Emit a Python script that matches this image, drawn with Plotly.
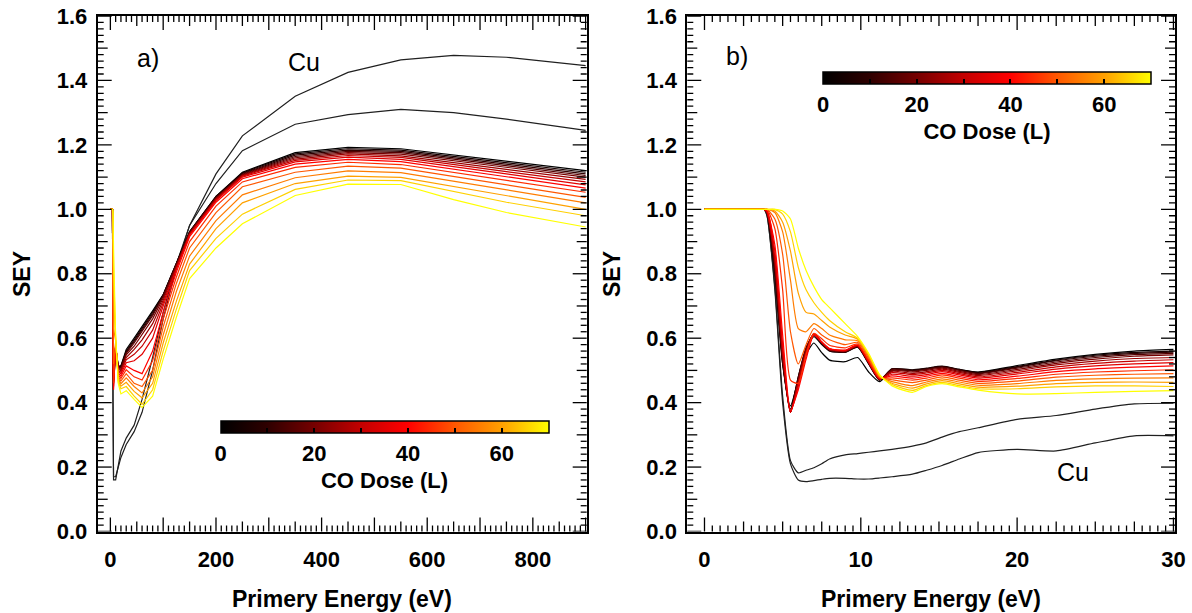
import plotly.graph_objects as go
from plotly.colors import sample_colorscale

# ---------------- data ----------------
DOSES = [0, 5, 10, 15, 20, 25, 30, 35, 40, 45, 50, 55, 60, 65, 70]

# panel a) primary energies (eV)
A_E = [0, 4, 5, 6, 10, 15, 20, 30, 45, 60, 80, 100, 125, 150, 200, 250, 350, 450, 550, 650, 750, 900]
A_D00 = [1, 1, 0.52, 0.47, 0.54, 0.512, 0.515, 0.565, 0.60, 0.635, 0.685, 0.735, 0.83, 0.93, 1.04, 1.115, 1.176, 1.192, 1.188, 1.168, 1.148, 1.12]
A_D05 = [1, 1, 0.52, 0.48, 0.572, 0.513, 0.512, 0.56, 0.595, 0.63, 0.68, 0.735, 0.83, 0.93, 1.04, 1.113, 1.172, 1.188, 1.184, 1.164, 1.144, 1.115]
A_D10 = [1, 1, 0.53, 0.48, 0.573, 0.512, 0.51, 0.557, 0.59, 0.625, 0.675, 0.733, 0.83, 0.93, 1.038, 1.111, 1.168, 1.184, 1.18, 1.16, 1.14, 1.11]
A_D15 = [1, 1, 0.53, 0.475, 0.574, 0.51, 0.507, 0.553, 0.585, 0.62, 0.67, 0.73, 0.828, 0.928, 1.036, 1.109, 1.164, 1.18, 1.176, 1.156, 1.135, 1.105]
A_D20 = [1, 1, 0.54, 0.47, 0.575, 0.507, 0.503, 0.548, 0.575, 0.61, 0.66, 0.725, 0.826, 0.926, 1.034, 1.107, 1.16, 1.176, 1.171, 1.151, 1.13, 1.10]
A_D25 = [1, 1, 0.55, 0.465, 0.576, 0.504, 0.499, 0.54, 0.565, 0.595, 0.645, 0.718, 0.823, 0.924, 1.032, 1.105, 1.156, 1.172, 1.166, 1.146, 1.124, 1.093]
A_D30 = [1, 1, 0.56, 0.46, 0.577, 0.50, 0.494, 0.533, 0.55, 0.575, 0.625, 0.71, 0.82, 0.922, 1.03, 1.103, 1.152, 1.167, 1.161, 1.14, 1.117, 1.085]
A_D35 = [1, 1, 0.58, 0.45, 0.578, 0.496, 0.489, 0.524, 0.53, 0.55, 0.60, 0.70, 0.815, 0.92, 1.027, 1.10, 1.147, 1.162, 1.155, 1.133, 1.109, 1.076]
A_D40 = [1, 1, 0.61, 0.44, 0.579, 0.491, 0.482, 0.514, 0.50, 0.49, 0.56, 0.68, 0.805, 0.915, 1.022, 1.095, 1.14, 1.155, 1.148, 1.125, 1.10, 1.066]
A_D45 = [1, 1, 0.75, 0.46, 0.582, 0.486, 0.475, 0.502, 0.48, 0.47, 0.53, 0.66, 0.79, 0.90, 1.01, 1.085, 1.13, 1.146, 1.139, 1.115, 1.089, 1.053]
A_D50 = [1, 1, 0.86, 0.52, 0.587, 0.48, 0.467, 0.49, 0.46, 0.45, 0.50, 0.635, 0.77, 0.88, 0.99, 1.07, 1.115, 1.134, 1.128, 1.102, 1.075, 1.037]
A_D55 = [1, 1, 0.93, 0.63, 0.592, 0.474, 0.459, 0.477, 0.45, 0.43, 0.48, 0.61, 0.745, 0.855, 0.965, 1.045, 1.098, 1.119, 1.114, 1.087, 1.059, 1.02]
A_D60 = [1, 1, 0.96, 0.74, 0.597, 0.468, 0.451, 0.463, 0.435, 0.415, 0.46, 0.585, 0.715, 0.83, 0.94, 1.02, 1.08, 1.103, 1.099, 1.071, 1.041, 1.0]
A_D65 = [1, 1, 0.985, 0.82, 0.60, 0.463, 0.443, 0.45, 0.42, 0.395, 0.44, 0.56, 0.69, 0.81, 0.91, 0.985, 1.062, 1.091, 1.089, 1.056, 1.022, 0.98]
A_D70 = [1, 1, 0.995, 0.88, 0.605, 0.459, 0.427, 0.437, 0.41, 0.385, 0.42, 0.535, 0.665, 0.785, 0.88, 0.955, 1.043, 1.078, 1.077, 1.03, 0.99, 0.945]
A_CU1 = [1, 1, 0.40, 0.17, 0.17, 0.2, 0.23, 0.27, 0.31, 0.37, 0.5, 0.66, 0.82, 0.95, 1.11, 1.228, 1.351, 1.425, 1.464, 1.478, 1.472, 1.446]
A_CU2 = [1, 1, 0.40, 0.16, 0.16, 0.2, 0.25, 0.29, 0.33, 0.41, 0.54, 0.68, 0.83, 0.95, 1.08, 1.182, 1.264, 1.294, 1.31, 1.30, 1.28, 1.245]

# panel b) primary energies (eV)
B_E = [0, 3.0, 3.8, 4.0, 4.5, 5.0, 5.5, 6.0, 6.5, 7.0, 7.5, 8.0, 9.0, 9.8, 10.5, 11.2, 12.0, 13.3, 14.2, 15.2, 16.3, 17.5, 20.0, 22.5, 25.0, 27.5, 30.0]
B_D00 = [1.0, 1.0, 1.0, 0.99, 0.80, 0.52, 0.39, 0.47, 0.55, 0.585, 0.555, 0.532, 0.527, 0.54, 0.495, 0.465, 0.50, 0.50, 0.505, 0.512, 0.503, 0.495, 0.515, 0.535, 0.55, 0.56, 0.565]
B_D05 = [1.0, 1.0, 1.0, 0.99, 0.80, 0.52, 0.38, 0.48, 0.565, 0.605, 0.58, 0.56, 0.556, 0.572, 0.52, 0.47, 0.505, 0.502, 0.507, 0.513, 0.503, 0.494, 0.512, 0.532, 0.547, 0.556, 0.56]
B_D10 = [1.0, 1.0, 1.0, 0.99, 0.81, 0.53, 0.375, 0.48, 0.57, 0.61, 0.583, 0.562, 0.557, 0.573, 0.522, 0.47, 0.505, 0.50, 0.505, 0.512, 0.502, 0.492, 0.51, 0.53, 0.544, 0.553, 0.557]
B_D15 = [1.0, 1.0, 1.0, 0.99, 0.82, 0.53, 0.37, 0.475, 0.57, 0.612, 0.585, 0.563, 0.558, 0.574, 0.523, 0.471, 0.503, 0.498, 0.503, 0.51, 0.50, 0.49, 0.507, 0.526, 0.54, 0.549, 0.553]
B_D20 = [1.0, 1.0, 1.0, 0.99, 0.83, 0.54, 0.37, 0.47, 0.565, 0.613, 0.586, 0.564, 0.559, 0.575, 0.524, 0.472, 0.50, 0.495, 0.50, 0.507, 0.497, 0.487, 0.503, 0.522, 0.535, 0.544, 0.548]
B_D25 = [1.0, 1.0, 1.0, 0.99, 0.84, 0.55, 0.37, 0.465, 0.56, 0.614, 0.587, 0.565, 0.56, 0.576, 0.525, 0.472, 0.497, 0.491, 0.496, 0.504, 0.494, 0.484, 0.499, 0.517, 0.529, 0.537, 0.54]
B_D30 = [1.0, 1.0, 1.0, 0.99, 0.85, 0.56, 0.37, 0.46, 0.555, 0.614, 0.588, 0.566, 0.561, 0.577, 0.526, 0.473, 0.493, 0.487, 0.492, 0.50, 0.49, 0.48, 0.494, 0.511, 0.522, 0.529, 0.533]
B_D35 = [1.0, 1.0, 1.0, 0.995, 0.87, 0.58, 0.37, 0.45, 0.545, 0.612, 0.588, 0.567, 0.562, 0.578, 0.527, 0.474, 0.488, 0.482, 0.487, 0.496, 0.486, 0.476, 0.489, 0.504, 0.514, 0.52, 0.524]
B_D40 = [1.0, 1.0, 1.0, 0.995, 0.89, 0.61, 0.375, 0.44, 0.535, 0.61, 0.588, 0.568, 0.563, 0.579, 0.528, 0.475, 0.483, 0.476, 0.482, 0.491, 0.481, 0.471, 0.482, 0.496, 0.505, 0.51, 0.514]
B_D45 = [1.0, 1.0, 1.0, 1.0, 0.94, 0.75, 0.47, 0.46, 0.55, 0.615, 0.598, 0.578, 0.57, 0.582, 0.533, 0.477, 0.477, 0.47, 0.476, 0.486, 0.476, 0.466, 0.475, 0.488, 0.495, 0.499, 0.502]
B_D50 = [1.0, 1.0, 1.0, 1.0, 0.97, 0.86, 0.62, 0.52, 0.58, 0.63, 0.61, 0.595, 0.58, 0.587, 0.538, 0.479, 0.471, 0.462, 0.47, 0.48, 0.47, 0.46, 0.467, 0.479, 0.485, 0.488, 0.49]
B_D55 = [1.0, 1.0, 1.0, 1.0, 0.99, 0.93, 0.78, 0.63, 0.62, 0.645, 0.63, 0.61, 0.595, 0.592, 0.543, 0.481, 0.465, 0.453, 0.464, 0.474, 0.464, 0.454, 0.459, 0.469, 0.474, 0.476, 0.477]
B_D60 = [1.0, 1.0, 1.0, 1.0, 0.995, 0.96, 0.87, 0.74, 0.68, 0.675, 0.655, 0.635, 0.61, 0.597, 0.547, 0.483, 0.46, 0.445, 0.458, 0.468, 0.458, 0.448, 0.451, 0.459, 0.463, 0.464, 0.463]
B_D65 = [1.0, 1.0, 1.0, 1.0, 1.0, 0.985, 0.93, 0.82, 0.75, 0.71, 0.68, 0.655, 0.62, 0.60, 0.55, 0.485, 0.456, 0.438, 0.453, 0.463, 0.453, 0.443, 0.443, 0.449, 0.452, 0.452, 0.45]
B_D70 = [1.0, 1.0, 1.0, 1.0, 1.0, 0.995, 0.97, 0.88, 0.81, 0.76, 0.72, 0.695, 0.645, 0.605, 0.553, 0.487, 0.452, 0.432, 0.45, 0.459, 0.449, 0.439, 0.427, 0.428, 0.432, 0.435, 0.437]
B_CU1 = [1.0, 1.0, 1.0, 0.98, 0.76, 0.42, 0.22, 0.182, 0.19, 0.198, 0.21, 0.225, 0.238, 0.242, 0.246, 0.25, 0.255, 0.265, 0.275, 0.293, 0.31, 0.322, 0.348, 0.36, 0.38, 0.396, 0.398]
B_CU2 = [1.0, 1.0, 1.0, 0.98, 0.75, 0.40, 0.21, 0.16, 0.155, 0.158, 0.162, 0.165, 0.165, 0.163, 0.163, 0.166, 0.17, 0.178, 0.19, 0.205, 0.225, 0.245, 0.255, 0.25, 0.275, 0.297, 0.297]

A_CURVES = [A_D00, A_D05, A_D10, A_D15, A_D20, A_D25, A_D30, A_D35, A_D40, A_D45, A_D50, A_D55, A_D60, A_D65, A_D70]
B_CURVES = [B_D00, B_D05, B_D10, B_D15, B_D20, B_D25, B_D30, B_D35, B_D40, B_D45, B_D50, B_D55, B_D60, B_D65, B_D70]

# tick labels
Y_TICKS = [0.0, 0.2, 0.4, 0.6, 0.8, 1.0, 1.2, 1.4, 1.6]
Y_LABELS = ["0.0", "0.2", "0.4", "0.6", "0.8", "1.0", "1.2", "1.4", "1.6"]
XA_TICKS = [0, 200, 400, 600, 800]
XA_LABELS = ["0", "200", "400", "600", "800"]
XB_TICKS = [0, 10, 20, 30]
XB_LABELS = ["0", "10", "20", "30"]
CB_TICKS = [0, 10, 20, 30, 40, 50, 60, 70]
CB_LABELS = ["0", "", "20", "", "40", "", "60", ""]

# ---------------- styling ----------------
W, H = 1192, 613
COLORSCALE = [[0.0, "#000000"], [0.14, "#2e0000"], [0.29, "#780000"], [0.43, "#c40000"],
              [0.57, "#ff0000"], [0.71, "#ff5500"], [0.86, "#ffa200"], [1.0, "#ffff00"]]
FONT = "Liberation Sans, Arial, sans-serif"

def px_x(p):
    return p / W

def px_y(p):
    return 1 - p / H

A_DOM_X = [px_x(97.7), px_x(586.7)]
B_DOM_X = [px_x(687.3), px_x(1175.0)]
DOM_Y = [px_y(531.5), px_y(16.0)]
PLOT_W_PX = 489.0
PLOT_H_PX = 515.5

fig = go.Figure()

colors = sample_colorscale(COLORSCALE, [d / 70 for d in DOSES])

for ys in (A_CU1, A_CU2):
    fig.add_trace(go.Scatter(x=A_E, y=ys, mode="lines", line=dict(color="#202020", width=1.2),
                             xaxis="x", yaxis="y", showlegend=False, hoverinfo="skip"))
for ys, c in zip(A_CURVES, colors):
    fig.add_trace(go.Scatter(x=A_E, y=ys, mode="lines", line=dict(color=c, width=1.2),
                             xaxis="x", yaxis="y", showlegend=False, hoverinfo="skip"))
for ys in (B_CU1, B_CU2):
    fig.add_trace(go.Scatter(x=B_E, y=ys, mode="lines",
                             line=dict(color="#202020", width=1.2, shape="spline", smoothing=0.6),
                             xaxis="x2", yaxis="y2", showlegend=False, hoverinfo="skip"))
for ys, c in zip(B_CURVES, colors):
    fig.add_trace(go.Scatter(x=B_E, y=ys, mode="lines",
                             line=dict(color=c, width=1.2, shape="spline", smoothing=0.6),
                             xaxis="x2", yaxis="y2", showlegend=False, hoverinfo="skip"))

cb_font = dict(family=FONT, size=22, color="black", weight="bold")

def cbar(xc, ytop):
    return dict(orientation="h", x=xc, xanchor="center", y=ytop, yanchor="top",
                len=328, lenmode="pixels", thickness=12, thicknessmode="pixels",
                xpad=0, ypad=0, outlinecolor="black", outlinewidth=1.5,
                tickvals=CB_TICKS, ticktext=CB_LABELS, ticks="inside", ticklen=5,
                tickcolor="black", tickwidth=1.5, tickfont=cb_font,
                title=dict(text="CO Dose (L)", side="bottom", font=cb_font))

fig.add_trace(go.Scatter(x=[None, None], y=[None, None], mode="markers", xaxis="x", yaxis="y",
                         showlegend=False, hoverinfo="skip",
                         marker=dict(color=[0, 70], cmin=0, cmax=70, colorscale=COLORSCALE,
                                     showscale=True, colorbar=cbar(px_x(384.5), px_y(421)))))
fig.add_trace(go.Scatter(x=[None, None], y=[None, None], mode="markers", xaxis="x2", yaxis="y2",
                         showlegend=False, hoverinfo="skip",
                         marker=dict(color=[0, 70], cmin=0, cmax=70, colorscale=COLORSCALE,
                                     showscale=True, colorbar=cbar(px_x(987), px_y(72.5)))))

tickfont = dict(family=FONT, size=22, color="black", weight="bold")

def axis(dom, rng, anchor, tv, tt, gap):
    # labels only; the tick marks are drawn as shapes below
    return dict(domain=dom, range=rng, anchor=anchor, tickmode="array", tickvals=tv, ticktext=tt,
                ticks="outside", ticklen=gap, tickcolor="rgba(0,0,0,0)",
                showline=True, linecolor="black", linewidth=2, mirror=True,
                showgrid=False, zeroline=False, tickfont=tickfont, automargin=False)

fig.update_layout(
    template="none",
    width=W, height=H, margin=dict(l=0, r=0, t=0, b=0, pad=0),
    paper_bgcolor="white", plot_bgcolor="white",
    xaxis=axis(A_DOM_X, [-24, 902], "y", XA_TICKS, XA_LABELS, 7),
    yaxis=axis(DOM_Y, [0, 1.6], "x", Y_TICKS, Y_LABELS, 4),
    xaxis2=axis(B_DOM_X, [-1.1, 30.1], "y2", XB_TICKS, XB_LABELS, 7),
    yaxis2=axis(DOM_Y, [0, 1.6], "x2", Y_TICKS, Y_LABELS, 4),
)

# ---- IDL-style tick marks on all four sides (major / medium / minor) ----
def tick_len(i, major_every, mid_every):
    if i % major_every == 0:
        return 14
    if i % mid_every == 0:
        return 10
    return 6

shapes = []
def x_ticks(xr, yr, step, n, major_every, mid_every):
    for i in range(n + 1):
        v = round(i * step, 6)
        f = tick_len(i, major_every, mid_every) / PLOT_H_PX
        for y0, y1 in ((0, f), (1 - f, 1)):
            shapes.append(dict(type="line", xref=xr, yref=yr + " domain", x0=v, x1=v, y0=y0, y1=y1,
                               line=dict(color="black", width=1.3), layer="above"))

def y_ticks(xr, yr, step, n, major_every, mid_every):
    for i in range(n + 1):
        v = round(i * step, 6)
        f = tick_len(i, major_every, mid_every) / PLOT_W_PX
        for x0, x1 in ((0, f), (1 - f, 1)):
            shapes.append(dict(type="line", xref=xr + " domain", yref=yr, x0=x0, x1=x1, y0=v, y1=v,
                               line=dict(color="black", width=1.3), layer="above"))

x_ticks("x", "y", 10, 90, 10, 5)       # 0..900 eV, minor 10, medium 50, major 100
x_ticks("x2", "y2", 0.5, 60, 20, 5)    # 0..30 eV, minor 0.5, medium 2.5, major 10
y_ticks("x", "y", 0.02, 80, 10, 5)     # 0..1.6, minor 0.02, medium 0.1, major 0.2
y_ticks("x2", "y2", 0.02, 80, 10, 5)
fig.update_layout(shapes=shapes)

title_font = dict(family=FONT, size=23, color="black", weight="bold")
label_font = dict(family=FONT, size=25, color="black")
ann = [
    dict(text="Primery Energy (eV)", x=(A_DOM_X[0] + A_DOM_X[1]) / 2, y=px_y(599)),
    dict(text="Primery Energy (eV)", x=(B_DOM_X[0] + B_DOM_X[1]) / 2, y=px_y(599)),
    dict(text="SEY", x=px_x(22), y=px_y(274), textangle=-90),
    dict(text="SEY", x=px_x(612), y=px_y(274), textangle=-90),
]
for a in ann:
    a.update(xref="paper", yref="paper", xanchor="center", yanchor="middle",
             showarrow=False, font=title_font)
ann += [
    dict(text="a)", x=71, y=1.47, xref="x", yref="y"),
    dict(text="Cu", x=367, y=1.458, xref="x", yref="y"),
    dict(text="b)", x=2.1, y=1.476, xref="x2", yref="y2"),
    dict(text="Cu", x=23.6, y=0.186, xref="x2", yref="y2"),
]
for a in ann[4:]:
    a.update(xanchor="center", yanchor="middle", showarrow=False, font=label_font)
fig.update_layout(annotations=ann)

fig.write_html("out.html", config={"displayModeBar": False},
               post_script="document.body.style.margin='0px';document.body.style.overflow='hidden';")
